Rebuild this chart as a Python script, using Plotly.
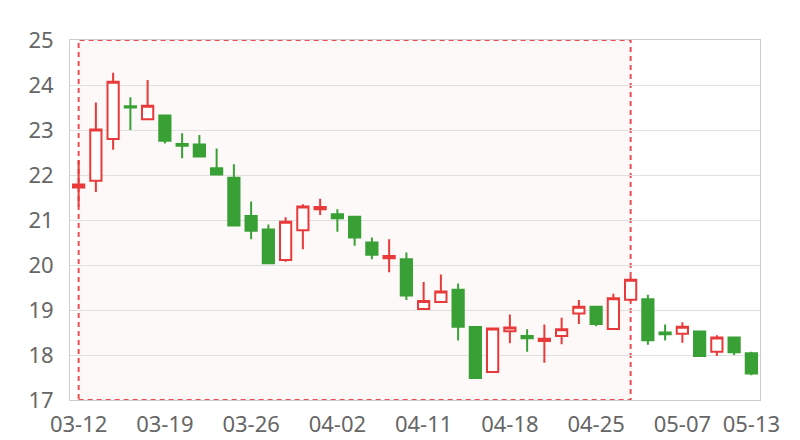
import plotly.graph_objects as go

dates = ["03-12", "03-13", "03-14", "03-15", "03-16", "03-19", "03-20", "03-21", "03-22", "03-23",
         "03-26", "03-27", "03-28", "03-29", "03-30", "04-02", "04-03", "04-04", "04-09", "04-10",
         "04-11", "04-12", "04-13", "04-16", "04-17", "04-18", "04-19", "04-20", "04-23", "04-24",
         "04-25", "04-26", "04-27", "05-02", "05-03", "05-07", "05-08", "05-09", "05-10", "05-13"]

open_ = [21.72, 21.87, 22.80, 23.53, 23.24, 23.32, 22.69, 22.68, 22.15, 21.94,
         21.09, 20.79, 20.11, 20.77, 21.24, 21.13, 21.07, 20.50, 20.15, 20.13,
         19.02, 19.18, 19.45, 18.62, 17.62, 18.53, 18.42, 18.31, 18.42, 18.92,
         19.07, 18.58, 19.23, 19.24, 18.50, 18.47, 18.52, 18.07, 18.39, 18.04]
close = [21.79, 23.01, 24.07, 23.50, 23.54, 22.76, 22.65, 22.41, 22.01, 20.88,
         20.76, 20.04, 20.96, 21.30, 21.29, 21.04, 20.61, 20.23, 20.20, 19.32,
         19.20, 19.41, 18.63, 17.49, 18.59, 18.61, 18.37, 18.36, 18.57, 19.07,
         18.69, 19.26, 19.67, 18.33, 18.46, 18.63, 17.98, 18.39, 18.06, 17.59]
high = [22.33, 23.61, 24.27, 23.73, 24.11, 23.33, 22.93, 22.89, 22.59, 22.24,
        21.41, 20.90, 21.06, 21.35, 21.47, 21.24, 21.08, 20.61, 20.57, 20.28,
        19.62, 19.79, 19.59, 18.62, 18.61, 18.90, 18.57, 18.68, 18.83, 19.22,
        19.07, 19.36, 19.74, 19.34, 18.68, 18.73, 18.53, 18.44, 18.40, 18.07]
low = [21.30, 21.62, 22.56, 23.00, 23.24, 22.70, 22.37, 22.39, 22.00, 20.87,
       20.57, 20.04, 20.07, 20.35, 21.11, 20.74, 20.43, 20.13, 19.84, 19.22,
       19.01, 19.18, 18.32, 17.49, 17.62, 18.26, 18.07, 17.83, 18.24, 18.69,
       18.64, 18.58, 19.19, 18.23, 18.32, 18.27, 17.98, 17.98, 18.00, 17.55]

tick_labels = ["03-12", "03-19", "03-26", "04-02", "04-11", "04-18", "04-25", "05-07", "05-13"]
area_start, area_end = "03-12", "04-27"

RED = "#e83a3a"
GREEN = "#38a035"
FONT = "Noto Sans"

fig = go.Figure(go.Candlestick(
    x=dates, open=open_, high=high, low=low, close=close,
    increasing=dict(line=dict(color=RED, width=2), fillcolor="#ffffff"),
    decreasing=dict(line=dict(color=GREEN, width=2), fillcolor=GREEN),
    whiskerwidth=0, hoverinfo="skip", showlegend=False,
))

fig.add_shape(type="rect", xref="x", yref="y domain",
              x0=area_start, x1=area_end, y0=0, y1=1,
              line=dict(color="#ea4d52", width=2, dash="5px,4px"),
              fillcolor="rgba(232,58,58,0.03)", layer="below")

# page body has an 8px margin, so the figure is offset by 8px
fig.update_layout(
    width=792, height=432,
    margin=dict(l=62, r=40, t=32, b=40, autoexpand=False),
    paper_bgcolor="white", plot_bgcolor="white",
    boxgap=0.07,
    font=dict(family=FONT, size=22, color="#666666"),
)
fig.update_xaxes(
    type="category", range=[-0.5, len(dates) - 0.5],
    rangeslider=dict(visible=False), automargin=False,
    tickmode="array", tickvals=tick_labels, ticktext=tick_labels,
    showgrid=False, showline=True, linecolor="#cccccc", linewidth=1, mirror=True,
    ticks="", ticklabelstandoff=5, zeroline=False,
)
fig.update_yaxes(
    range=[17, 25], dtick=1, showgrid=True, gridcolor="#e0e0e0", gridwidth=1,
    showline=True, linecolor="#cccccc", linewidth=1, mirror=True, automargin=False,
    ticks="", ticklabelstandoff=11, zeroline=False,
)

fig.write_html("out.html")
